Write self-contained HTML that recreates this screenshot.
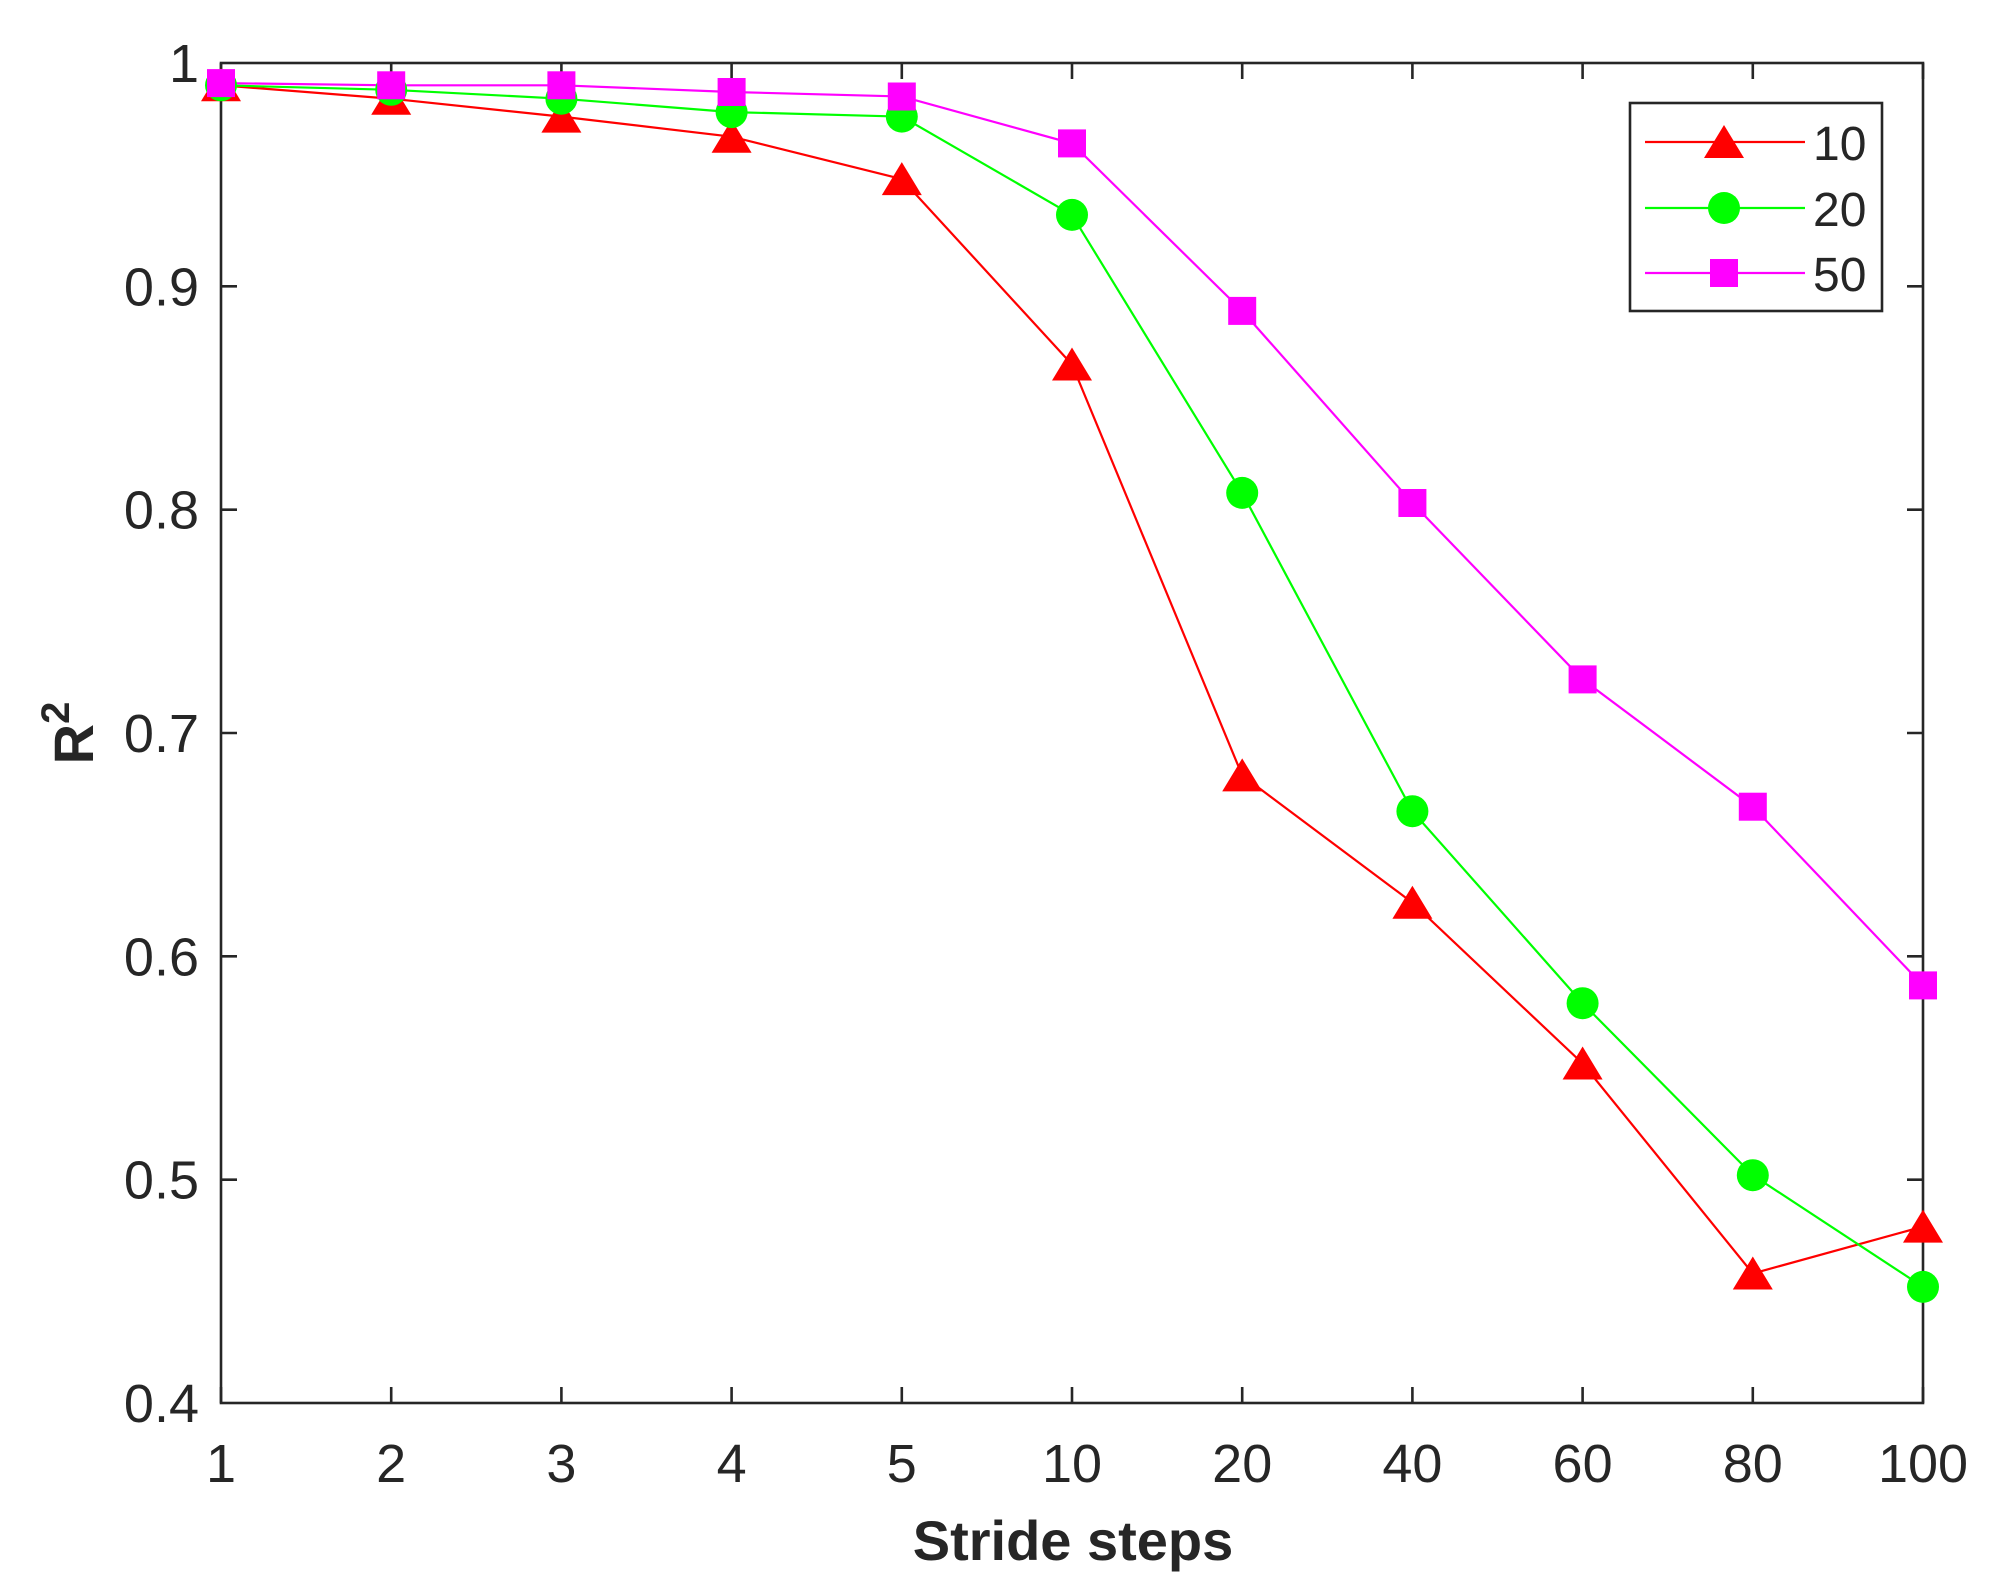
<!DOCTYPE html>
<html><head><meta charset="utf-8"><style>
html,body{margin:0;padding:0;background:#fff;}
svg{display:block;}
text{font-family:"Liberation Sans",Arial,sans-serif;fill:#262626;}
</style></head><body>
<svg width="2004" height="1587" viewBox="0 0 2004 1587" xmlns="http://www.w3.org/2000/svg" xmlns:xlink="http://www.w3.org/1999/xlink">
<defs>
<polygon id="tri" points="0,-17 -20,16 20,16" fill="#ff0000"/>
<circle id="cir" cx="0" cy="0" r="16" fill="#00ff00"/>
<rect id="sq" x="-14" y="-14" width="28" height="28" fill="#ff00ff"/>
</defs>
<rect width="2004" height="1587" fill="#fff"/>
<g stroke="#262626" stroke-width="2.6">
<rect x="221" y="63" width="1702" height="1340" fill="none"/>
<path d="M221,1403v-16M391.2,1403v-16M561.4,1403v-16M731.6,1403v-16M901.8,1403v-16M1072,1403v-16M1242.2,1403v-16M1412.4,1403v-16M1582.6,1403v-16M1752.8,1403v-16M1923,1403v-16
M221,63v16M391.2,63v16M561.4,63v16M731.6,63v16M901.8,63v16M1072,63v16M1242.2,63v16M1412.4,63v16M1582.6,63v16M1752.8,63v16M1923,63v16
M221,1179.7h16M221,956.3h16M221,733h16M221,509.7h16M221,286.3h16
M1923,1179.7h-16M1923,956.3h-16M1923,733h-16M1923,509.7h-16M1923,286.3h-16" fill="none"/>
</g>
<g font-size="54" text-anchor="middle">
<text x="221" y="1482">1</text><text x="391.2" y="1482">2</text><text x="561.4" y="1482">3</text><text x="731.6" y="1482">4</text><text x="901.8" y="1482">5</text><text x="1072" y="1482">10</text><text x="1242.2" y="1482">20</text><text x="1412.4" y="1482">40</text><text x="1582.6" y="1482">60</text><text x="1752.8" y="1482">80</text><text x="1923" y="1482">100</text>
</g>
<g font-size="54" text-anchor="end">
<text x="199" y="1422">0.4</text><text x="199" y="1198.7">0.5</text><text x="199" y="975.3">0.6</text><text x="199" y="752">0.7</text><text x="199" y="528.7">0.8</text><text x="199" y="305.3">0.9</text><text x="199" y="82">1</text>
</g>
<polyline fill="none" stroke="#ff0000" stroke-width="2.2" points="221,85.3 391.2,98.7 561.4,116.6 731.6,136.7 901.8,179.1 1072,364.5 1242.2,775.4 1412.4,902.7 1582.6,1063.5 1752.8,1273.5 1923,1226.6"/>
<polyline fill="none" stroke="#00ff00" stroke-width="2.2" points="221,85.3 391.2,89.8 561.4,98.7 731.6,112.1 901.8,116.6 1072,214.9 1242.2,492.9 1412.4,811.2 1582.6,1003.2 1752.8,1175.2 1923,1286.9"/>
<polyline fill="none" stroke="#ff00ff" stroke-width="2.2" points="221,83.1 391.2,85.3 561.4,85.3 731.6,92 901.8,96.5 1072,143.4 1242.2,310.9 1412.4,503 1582.6,679.4 1752.8,806.7 1923,985.4"/>
<use xlink:href="#tri" x="221" y="85.3"/><use xlink:href="#tri" x="391.2" y="98.7"/><use xlink:href="#tri" x="561.4" y="116.6"/><use xlink:href="#tri" x="731.6" y="136.7"/><use xlink:href="#tri" x="901.8" y="179.1"/><use xlink:href="#tri" x="1072" y="364.5"/><use xlink:href="#tri" x="1242.2" y="775.4"/><use xlink:href="#tri" x="1412.4" y="902.7"/><use xlink:href="#tri" x="1582.6" y="1063.5"/><use xlink:href="#tri" x="1752.8" y="1273.5"/><use xlink:href="#tri" x="1923" y="1226.6"/>
<use xlink:href="#cir" x="221" y="85.3"/><use xlink:href="#cir" x="391.2" y="89.8"/><use xlink:href="#cir" x="561.4" y="98.7"/><use xlink:href="#cir" x="731.6" y="112.1"/><use xlink:href="#cir" x="901.8" y="116.6"/><use xlink:href="#cir" x="1072" y="214.9"/><use xlink:href="#cir" x="1242.2" y="492.9"/><use xlink:href="#cir" x="1412.4" y="811.2"/><use xlink:href="#cir" x="1582.6" y="1003.2"/><use xlink:href="#cir" x="1752.8" y="1175.2"/><use xlink:href="#cir" x="1923" y="1286.9"/>
<use xlink:href="#sq" x="221" y="83.1"/><use xlink:href="#sq" x="391.2" y="85.3"/><use xlink:href="#sq" x="561.4" y="85.3"/><use xlink:href="#sq" x="731.6" y="92"/><use xlink:href="#sq" x="901.8" y="96.5"/><use xlink:href="#sq" x="1072" y="143.4"/><use xlink:href="#sq" x="1242.2" y="310.9"/><use xlink:href="#sq" x="1412.4" y="503"/><use xlink:href="#sq" x="1582.6" y="679.4"/><use xlink:href="#sq" x="1752.8" y="806.7"/><use xlink:href="#sq" x="1923" y="985.4"/>
<rect x="1630" y="103" width="252" height="208" fill="#fff" stroke="#262626" stroke-width="2.6"/>
<line x1="1645" y1="142" x2="1805" y2="142" stroke="#ff0000" stroke-width="2.2"/>
<line x1="1645" y1="208" x2="1805" y2="208" stroke="#00ff00" stroke-width="2.2"/>
<line x1="1645" y1="273" x2="1805" y2="273" stroke="#ff00ff" stroke-width="2.2"/>
<use xlink:href="#tri" x="1724" y="142"/><use xlink:href="#cir" x="1724" y="208"/><use xlink:href="#sq" x="1724" y="273"/>
<g font-size="48"><text x="1813" y="160">10</text><text x="1813" y="226">20</text><text x="1813" y="291">50</text></g>
<text x="1073" y="1560" font-size="56" font-weight="bold" text-anchor="middle">Stride steps</text>
<g transform="translate(93,733) rotate(-90)"><text x="0" y="0" font-size="56" font-weight="bold" text-anchor="middle">R<tspan font-size="40" dy="-24">2</tspan></text></g>
</svg>
</body></html>
